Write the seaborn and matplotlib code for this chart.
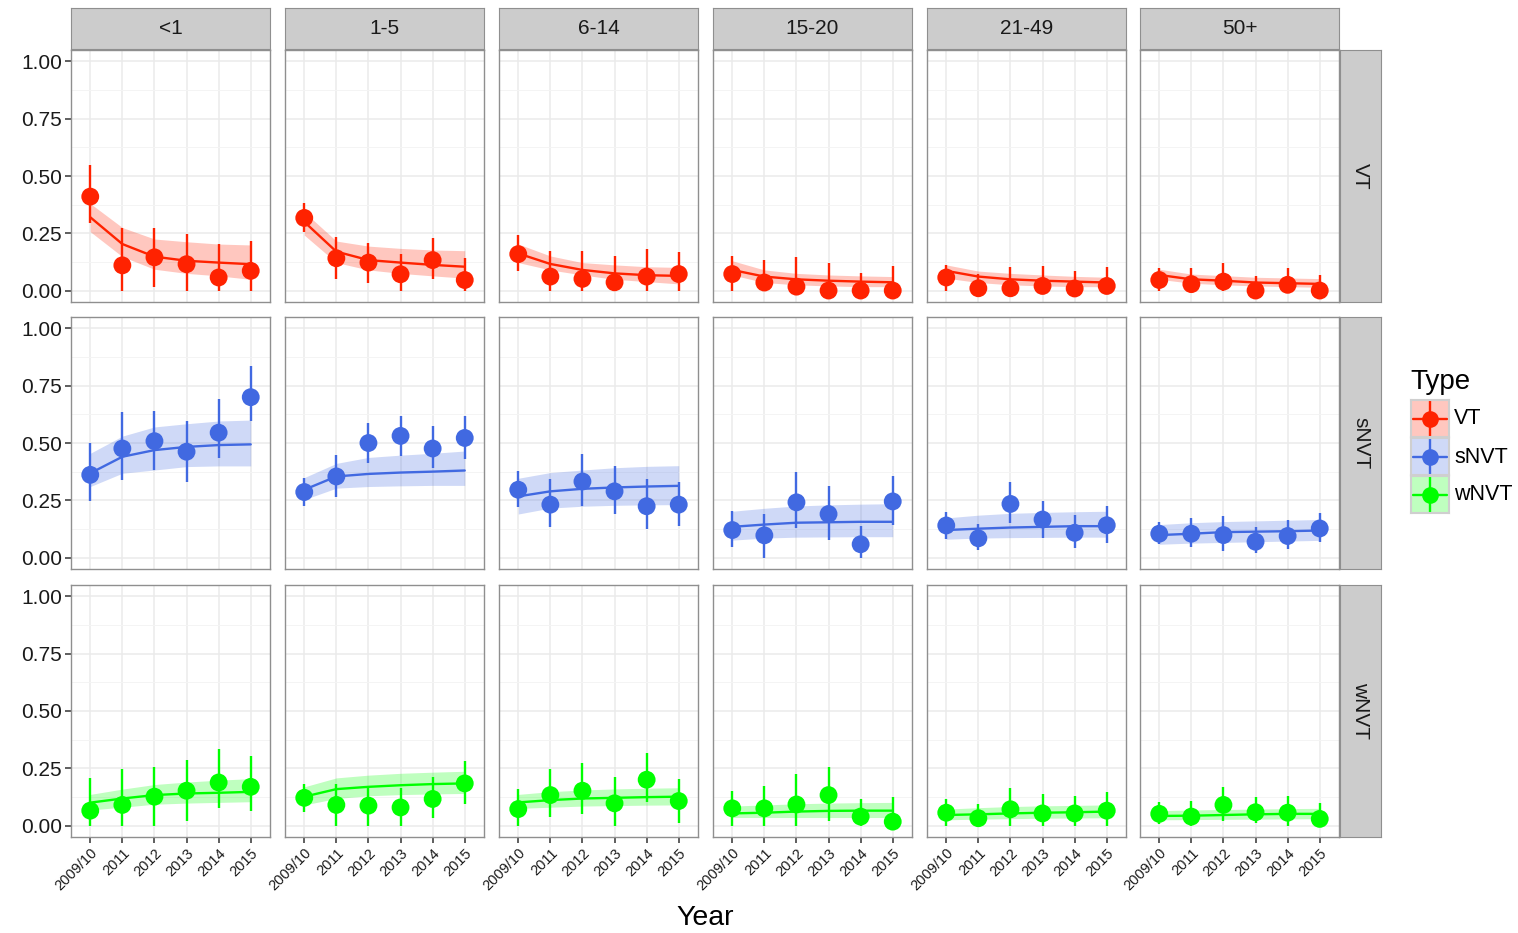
import numpy as np
import pandas as pd
import matplotlib
matplotlib.use("Agg")
import matplotlib.pyplot as plt
import seaborn as sns
from matplotlib.patches import Rectangle
from matplotlib.ticker import FormatStrFormatter, FixedLocator

# ---------------- data ----------------
years = ["2009/10", "2011", "2012", "2013", "2014", "2015"]
ages = ["<1", "1-5", "6-14", "15-20", "21-49", "50+"]
types = ["VT", "sNVT", "wNVT"]

# observed proportions (rows = age groups, cols = years)
vt_obs = [[0.41, 0.11, 0.145, 0.115, 0.057, 0.086],
          [0.317, 0.141, 0.122, 0.071, 0.133, 0.046],
          [0.159, 0.061, 0.051, 0.036, 0.061, 0.072],
          [0.072, 0.035, 0.017, 0.0, 0.0, 0.0],
          [0.057, 0.01, 0.01, 0.02, 0.009, 0.02],
          [0.046, 0.028, 0.039, 0.0, 0.025, 0.0]]
vt_lo = [[0.296, 0, 0.014, 0, 0, 0],
         [0.257, 0.049, 0.032, 0, 0.049, 0],
         [0.086, 0, 0, 0, 0, 0],
         [0, 0, 0, 0, 0, 0],
         [0, 0, 0, 0, 0, 0],
         [0, 0, 0, 0, 0, 0]]
vt_hi = [[0.55, 0.271, 0.275, 0.249, 0.203, 0.217],
         [0.38, 0.232, 0.209, 0.158, 0.228, 0.141],
         [0.242, 0.172, 0.172, 0.151, 0.18, 0.17],
         [0.151, 0.133, 0.148, 0.122, 0.075, 0.107],
         [0.112, 0.071, 0.101, 0.107, 0.086, 0.101],
         [0.097, 0.097, 0.119, 0.064, 0.097, 0.068]]
vt_fit = [[0.32, 0.203, 0.148, 0.13, 0.122, 0.115],
          [0.30, 0.17, 0.133, 0.122, 0.112, 0.104],
          [0.162, 0.116, 0.09, 0.075, 0.067, 0.064],
          [0.09, 0.061, 0.049, 0.043, 0.039, 0.036],
          [0.086, 0.061, 0.049, 0.043, 0.039, 0.035],
          [0.068, 0.049, 0.043, 0.035, 0.032, 0.029]]
vt_flo = [[0.257, 0.148, 0.093, 0.075, 0.064, 0.049],
          [0.242, 0.122, 0.09, 0.075, 0.064, 0.054],
          [0.122, 0.09, 0.068, 0.049, 0.039, 0.029],
          [0.068, 0.035, 0.025, 0.02, 0.017, 0.017],
          [0.054, 0.035, 0.025, 0.02, 0.017, 0.017],
          [0.049, 0.032, 0.025, 0.02, 0.017, 0.014]]
vt_fhi = [[0.38, 0.275, 0.225, 0.213, 0.203, 0.199],
          [0.343, 0.216, 0.194, 0.184, 0.177, 0.174],
          [0.203, 0.151, 0.122, 0.112, 0.104, 0.101],
          [0.13, 0.09, 0.075, 0.068, 0.064, 0.061],
          [0.112, 0.085, 0.075, 0.068, 0.062, 0.058],
          [0.093, 0.072, 0.065, 0.058, 0.055, 0.052]]

snvt_obs = [[0.361, 0.476, 0.508, 0.462, 0.545, 0.70],
            [0.286, 0.354, 0.50, 0.531, 0.476, 0.522],
            [0.296, 0.231, 0.332, 0.289, 0.224, 0.231],
            [0.12, 0.097, 0.241, 0.19, 0.058, 0.245],
            [0.14, 0.084, 0.234, 0.166, 0.108, 0.141],
            [0.104, 0.104, 0.098, 0.069, 0.094, 0.127]]
snvt_lo = [[0.245, 0.339, 0.382, 0.328, 0.433, 0.596],
           [0.224, 0.264, 0.411, 0.444, 0.392, 0.43],
           [0.221, 0.134, 0.227, 0.188, 0.126, 0.137],
           [0.048, 0.0, 0.13, 0.076, 0.0, 0.14],
           [0.082, 0.033, 0.152, 0.087, 0.043, 0.065],
           [0.058, 0.046, 0.029, 0.019, 0.039, 0.068]]
snvt_hi = [[0.50, 0.635, 0.639, 0.596, 0.693, 0.837],
           [0.346, 0.447, 0.587, 0.617, 0.573, 0.62],
           [0.378, 0.343, 0.452, 0.401, 0.343, 0.329],
           [0.202, 0.192, 0.372, 0.313, 0.137, 0.356],
           [0.198, 0.147, 0.328, 0.248, 0.185, 0.224],
           [0.157, 0.173, 0.18, 0.134, 0.166, 0.195]]
snvt_fit = [[0.368, 0.44, 0.469, 0.483, 0.491, 0.494],
            [0.296, 0.354, 0.365, 0.371, 0.375, 0.38],
            [0.267, 0.289, 0.30, 0.306, 0.31, 0.313],
            [0.134, 0.144, 0.152, 0.154, 0.156, 0.156],
            [0.12, 0.126, 0.131, 0.134, 0.137, 0.137],
            [0.098, 0.104, 0.111, 0.113, 0.115, 0.118]]
snvt_flo = [[0.31, 0.368, 0.382, 0.397, 0.40, 0.40],
            [0.253, 0.303, 0.31, 0.313, 0.315, 0.315],
            [0.19, 0.216, 0.224, 0.228, 0.23, 0.231],
            [0.076, 0.085, 0.089, 0.09, 0.091, 0.091],
            [0.08, 0.085, 0.087, 0.088, 0.089, 0.089],
            [0.058, 0.063, 0.066, 0.069, 0.072, 0.075]]
snvt_fhi = [[0.455, 0.53, 0.57, 0.584, 0.596, 0.60],
            [0.349, 0.411, 0.437, 0.447, 0.455, 0.465],
            [0.346, 0.371, 0.382, 0.392, 0.398, 0.401],
            [0.202, 0.215, 0.225, 0.23, 0.233, 0.235],
            [0.173, 0.185, 0.193, 0.197, 0.2, 0.202],
            [0.144, 0.152, 0.157, 0.16, 0.163, 0.166]]

wnvt_obs = [[0.065, 0.09, 0.126, 0.152, 0.188, 0.169],
            [0.121, 0.09, 0.087, 0.079, 0.116, 0.184],
            [0.072, 0.133, 0.152, 0.097, 0.20, 0.107],
            [0.075, 0.075, 0.092, 0.133, 0.039, 0.017],
            [0.056, 0.032, 0.071, 0.053, 0.053, 0.065],
            [0.051, 0.039, 0.09, 0.058, 0.056, 0.029]]
wnvt_lo = [[0, 0, 0, 0.02, 0.075, 0.064],
           [0.061, 0, 0, 0, 0.035, 0.092],
           [0, 0.036, 0.051, 0, 0.101, 0.013],
           [0, 0, 0, 0.02, 0, 0],
           [0, 0, 0, 0, 0, 0],
           [0.006, 0, 0.02, 0.01, 0, 0]]
wnvt_hi = [[0.208, 0.249, 0.256, 0.288, 0.335, 0.303],
           [0.181, 0.181, 0.173, 0.166, 0.212, 0.28],
           [0.158, 0.246, 0.275, 0.212, 0.318, 0.202],
           [0.152, 0.172, 0.224, 0.256, 0.116, 0.126],
           [0.114, 0.092, 0.165, 0.137, 0.13, 0.147],
           [0.104, 0.108, 0.169, 0.123, 0.129, 0.097]]
wnvt_fit = [[0.10, 0.118, 0.133, 0.14, 0.143, 0.147],
            [0.126, 0.159, 0.169, 0.176, 0.181, 0.184],
            [0.101, 0.111, 0.118, 0.121, 0.124, 0.126],
            [0.053, 0.056, 0.061, 0.064, 0.065, 0.065],
            [0.046, 0.049, 0.053, 0.056, 0.058, 0.061],
            [0.042, 0.043, 0.046, 0.049, 0.051, 0.051]]
wnvt_flo = [[0.068, 0.08, 0.093, 0.098, 0.101, 0.104],
            [0.09, 0.118, 0.13, 0.135, 0.138, 0.14],
            [0.075, 0.08, 0.085, 0.087, 0.089, 0.09],
            [0.035, 0.035, 0.035, 0.035, 0.035, 0.035],
            [0.025, 0.028, 0.03, 0.032, 0.033, 0.034],
            [0.025, 0.026, 0.027, 0.028, 0.029, 0.03]]
wnvt_fhi = [[0.136, 0.159, 0.179, 0.19, 0.198, 0.205],
            [0.169, 0.208, 0.22, 0.228, 0.233, 0.237],
            [0.136, 0.148, 0.155, 0.16, 0.163, 0.165],
            [0.085, 0.09, 0.095, 0.098, 0.1, 0.101],
            [0.072, 0.078, 0.083, 0.086, 0.088, 0.09],
            [0.065, 0.068, 0.07, 0.072, 0.074, 0.075]]

type_colors = ["#FF2200", "#4169E1", "#00FF00"]

# ---------------- build long table ----------------
series = {
    "VT": (vt_obs, vt_lo, vt_hi, vt_fit, vt_flo, vt_fhi),
    "sNVT": (snvt_obs, snvt_lo, snvt_hi, snvt_fit, snvt_flo, snvt_fhi),
    "wNVT": (wnvt_obs, wnvt_lo, wnvt_hi, wnvt_fit, wnvt_flo, wnvt_fhi),
}
rows = []
for t in types:
    obs, lo, hi, fit, flo, fhi = series[t]
    for ai, a in enumerate(ages):
        for yi, y in enumerate(years):
            rows.append(dict(Type=t, Age=a, Year=y, xi=yi,
                             obs=obs[ai][yi], lo=lo[ai][yi], hi=hi[ai][yi],
                             fit=fit[ai][yi], flo=flo[ai][yi], fhi=fhi[ai][yi]))
df = pd.DataFrame(rows)

# ---------------- style ----------------
sns.set_theme(style="white")
plt.rcParams["font.family"] = ["Liberation Sans", "DejaVu Sans"]

W, H = 1518, 933
fig = plt.figure(figsize=(W / 100, H / 100), dpi=100)
fig.patch.set_facecolor("white")


def rect(x, y, w, h):
    return [x / W, 1 - (y + h) / H, w / W, h / H]


col_x = [71, 285, 499, 713, 927, 1140]
pw = 199
row_y = [50, 317, 585]
ph = 252
border = "#8F8F8F"
strip_fill = "#CCCCCC"
grid_major = "#EBEBEB"
grid_minor = "#F4F4F4"

for ri, t in enumerate(types):
    col = type_colors[ri]
    for ci, a in enumerate(ages):
        ax = fig.add_axes(rect(col_x[ci], row_y[ri], pw, ph))
        sub = df[(df.Type == t) & (df.Age == a)].sort_values("xi")
        ax.fill_between(sub.xi, sub.flo, sub.fhi, color=col, alpha=0.25, lw=0, zorder=2)
        sns.lineplot(data=sub, x="xi", y="fit", color=col, lw=1.7, ax=ax,
                     zorder=3, legend=False)
        ax.vlines(sub.xi, sub.lo, sub.hi, color=col, lw=1.7, zorder=4)
        sns.scatterplot(data=sub, x="xi", y="obs", color=col, s=165, ax=ax,
                        edgecolor="none", linewidth=0, zorder=5, legend=False)
        ax.set_xlim(-0.6, 5.6)
        ax.set_ylim(-0.05, 1.05)
        ax.set_xlabel("")
        ax.set_ylabel("")
        ax.set_xticks(range(len(years)))
        ax.set_yticks([0, 0.25, 0.5, 0.75, 1.0])
        ax.yaxis.set_minor_locator(FixedLocator([0.125, 0.375, 0.625, 0.875]))
        ax.yaxis.set_major_formatter(FormatStrFormatter("%.2f"))
        ax.grid(which="major", color=grid_major, lw=1.1, zorder=0)
        ax.grid(which="minor", axis="y", color=grid_minor, lw=0.7, zorder=0)
        ax.set_axisbelow(True)
        for s in ax.spines.values():
            s.set_color(border)
            s.set_linewidth(1.0)
            s.set_visible(True)
        ax.tick_params(axis="y", which="minor", left=False, length=0)
        if ci == 0:
            ax.tick_params(axis="y", which="major", left=True, length=4.5, width=1.1,
                           color="#333333", labelsize=15, labelcolor="#1A1A1A", pad=2)
        else:
            ax.tick_params(axis="y", which="major", left=False, labelleft=False)
        if ri == len(types) - 1:
            ax.set_xticklabels(years)
            ax.tick_params(axis="x", bottom=True, length=4.5, width=1.1,
                           color="#333333", labelsize=10.5, labelcolor="#1A1A1A", pad=2)
            for lab in ax.get_xticklabels():
                lab.set_rotation(45)
                lab.set_ha("right")
                lab.set_rotation_mode("anchor")
        else:
            ax.tick_params(axis="x", bottom=False, labelbottom=False)

        # top strips
        if ri == 0:
            sx = fig.add_axes(rect(col_x[ci], 8, pw, 41))
            sx.set_facecolor(strip_fill)
            sx.set_xticks([]); sx.set_yticks([])
            for s in sx.spines.values():
                s.set_color(border); s.set_linewidth(0.8)
            sx.text(0.5, 0.5, a, ha="center", va="center", fontsize=15,
                    color="#1A1A1A", transform=sx.transAxes)
    # right strip
    sy = fig.add_axes(rect(1340, row_y[ri], 41, ph))
    sy.set_facecolor(strip_fill)
    sy.set_xticks([]); sy.set_yticks([])
    for s in sy.spines.values():
        s.set_color(border); s.set_linewidth(0.8)
    sy.text(0.5, 0.5, t, ha="center", va="center", fontsize=15, rotation=-90,
            color="#1A1A1A", transform=sy.transAxes)

# axis title
fig.text(705 / W, 1 - 918 / H, "Year", ha="center", va="center", fontsize=20.5, color="black")

# legend
fig.text(1410 / W, 1 - 382 / H, "Type", ha="left", va="center", fontsize=20, color="black")
key_y = [400, 438, 476]
for k, t in enumerate(types):
    col = type_colors[k]
    kx = fig.add_axes(rect(1411, key_y[k], 38, 37))
    kx.set_xlim(0, 1); kx.set_ylim(0, 1)
    kx.add_patch(Rectangle((0, 0), 1, 1, facecolor=col, alpha=0.25, lw=0))
    kx.plot([0.05, 0.95], [0.5, 0.5], color=col, lw=1.7)
    kx.plot([0.5, 0.5], [0.03, 0.97], color=col, lw=1.7)
    kx.plot([0.5], [0.5], "o", color=col, ms=12, mec="none")
    kx.set_xticks([]); kx.set_yticks([])
    for s in kx.spines.values():
        s.set_color("#CFCFCF"); s.set_linewidth(1.5)
    fig.text(1454 / W, 1 - (key_y[k] + 19) / H, t, ha="left", va="center",
             fontsize=15.5, color="black")

fig.savefig("out.png", dpi=100)
